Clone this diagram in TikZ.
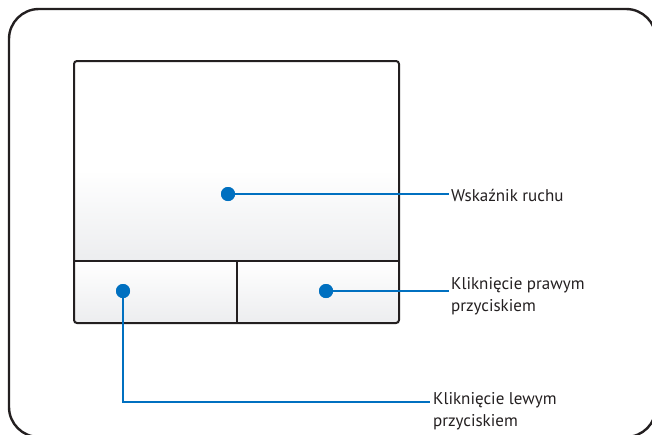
\documentclass[tikz,border=0pt]{standalone}
\usepackage{fontspec}
\setmainfont{PT Sans}
\usepackage{xcolor}
\usetikzlibrary{positioning}
\definecolor{leadblue}{RGB}{0,112,192}
\definecolor{framegray}{RGB}{35,31,32}
\definecolor{padgray}{RGB}{236,237,239}
\begin{document}
\begin{tikzpicture}[
  x=1pt, y=-1pt,
  frame/.style={draw=framegray, line width=2.4pt, rounded corners=30pt},
  pad/.style={draw=framegray, line width=2pt, rounded corners=3pt},
  dot/.style={circle, fill=leadblue, inner sep=0pt, minimum size=14pt},
  lead/.style={draw=leadblue, line width=2.4pt},
  lbl/.style={inner sep=0pt, align=left, text=framegray,
              font=\fontsize{17}{22}\selectfont}
]
\useasboundingbox (0,0) rectangle (652,434);
%% -- outer frame (runs off the page at right and bottom) --
\draw[frame] (9,9) rectangle (656,437);
%% -- touchpad surface and buttons --
\fill[white] (74,61) rectangle (399,170);
\shade[top color=white, bottom color=padgray] (74,170) rectangle (399,261);
\shade[top color=white, bottom color=padgray] (74,261) rectangle (399,323);
\draw[pad] (74,61) rectangle (399,323);
\draw[framegray, line width=2pt] (74,261) -- (399,261);
\draw[framegray, line width=2pt] (237,261) -- (237,323);
%% -- touch points --
\node[dot] (dmove) at (228,194) {};
\node[dot] (dright) at (326,291) {};
\node[dot] (dleft) at (123,291) {};
%% -- labels --
\node[lbl, anchor=base west] (lmove) at (451,201) {Wskaźnik ruchu};
\node[lbl, anchor=north west] (lright) at (451,277)
  {Kliknięcie prawym\\przyciskiem};
\node[lbl, anchor=north west] (lleft) at (433,392)
  {Kliknięcie lewym\\przyciskiem};
\coordinate (eleft) at (430,402);
%% -- leader lines --
\draw[lead] (dmove.center) -- ([xshift=-2pt]dmove.center -| lmove.west);
\draw[lead] (dright.center) -- ([xshift=-2pt]dright.center -| lright.west);
\draw[lead] (dleft.center) |- (eleft);
%% -- dots drawn again on top --
\node[dot] at (dmove) {};
\node[dot] at (dright) {};
\node[dot] at (dleft) {};
\end{tikzpicture}
\end{document}
